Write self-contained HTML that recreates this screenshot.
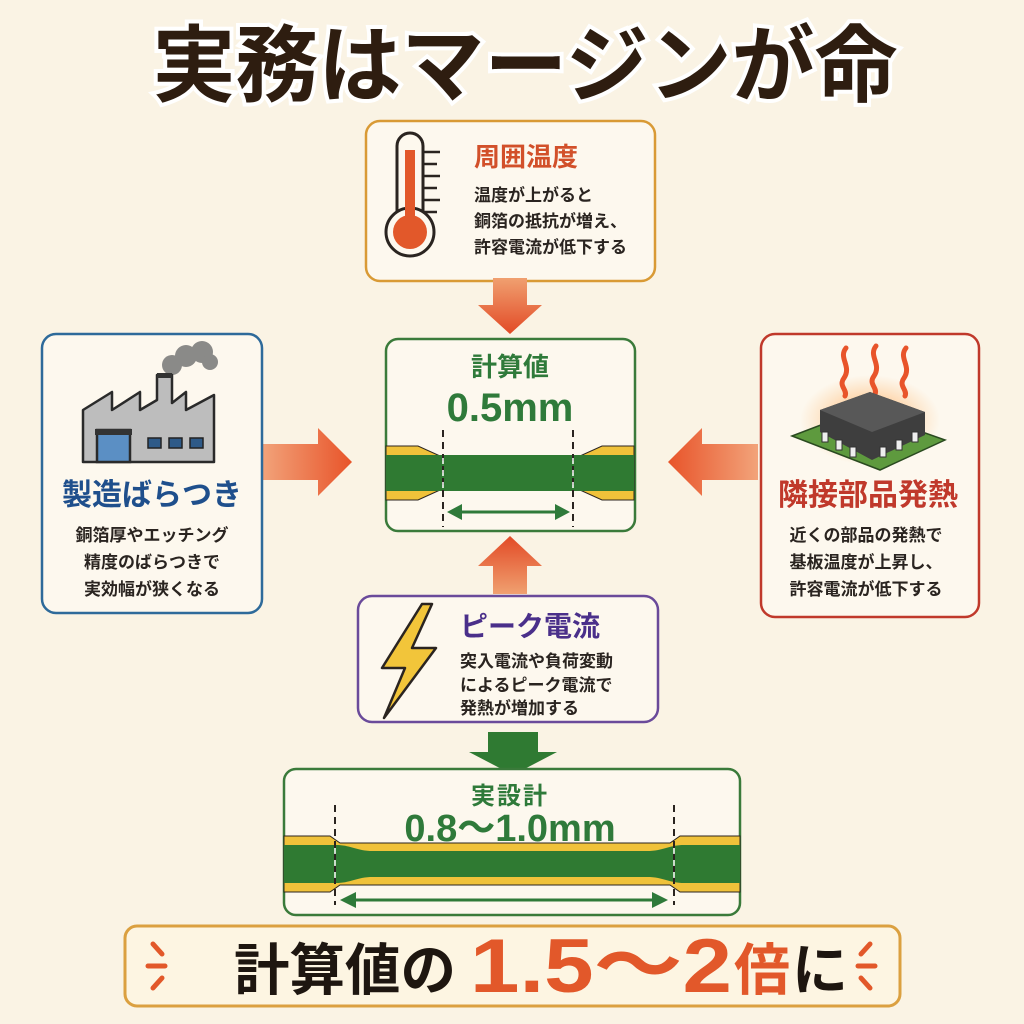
<!DOCTYPE html>
<html><head><meta charset="utf-8"><style>
html,body{margin:0;padding:0;background:#faf3e4;}
svg{display:block;}
text{font-family:"Liberation Sans","Noto Sans CJK JP",sans-serif;font-weight:bold;}
.b{font-size:17px;fill:#2a2420;}
</style></head><body>
<svg width="1024" height="1024" viewBox="0 0 1024 1024" xmlns="http://www.w3.org/2000/svg">
<defs>
<linearGradient id="ga" x1="0" x2="1"><stop offset="0" stop-color="#f2a37a"/><stop offset="1" stop-color="#e8542a"/></linearGradient>
<linearGradient id="gl" x1="1" x2="0"><stop offset="0" stop-color="#f2a37a"/><stop offset="1" stop-color="#e8542a"/></linearGradient>
<linearGradient id="gd" y1="0" y2="1" x1="0" x2="0"><stop offset="0" stop-color="#f0a070"/><stop offset="1" stop-color="#e24a26"/></linearGradient>
<linearGradient id="gu" y1="1" y2="0" x1="0" x2="0"><stop offset="0" stop-color="#f0a070"/><stop offset="1" stop-color="#e24a26"/></linearGradient>
<radialGradient id="glow"><stop offset="0" stop-color="#ff9a3a" stop-opacity="0.8"/><stop offset="1" stop-color="#ffb060" stop-opacity="0"/></radialGradient>
</defs>
<rect width="1024" height="1024" fill="#faf3e4"/>

<!-- Title -->
<text x="525" y="95" text-anchor="middle" font-size="84" fill="#2e1d10" stroke="#fff" stroke-width="8" paint-order="stroke" font-weight="900" textLength="745" lengthAdjust="spacingAndGlyphs">実務はマージンが命</text>

<!-- Top box -->
<rect x="366" y="121" width="289" height="160" rx="14" fill="#fdf8ee" stroke="#d99a35" stroke-width="2.5"/>
<rect x="397" y="133" width="26" height="100" rx="13" fill="#fdf8ee" stroke="#2a2420" stroke-width="3"/>
<circle cx="410" cy="232" r="24" fill="#fdf8ee" stroke="#2a2420" stroke-width="3"/>
<circle cx="410" cy="232" r="17" fill="#e2582a"/>
<rect x="405" y="150" width="10" height="80" fill="#e2582a"/>
<g stroke="#2a2420" stroke-width="2.5"><line x1="423" y1="152" x2="440" y2="152"/><line x1="423" y1="164" x2="437" y2="164"/><line x1="423" y1="176" x2="440" y2="176"/><line x1="423" y1="188" x2="437" y2="188"/><line x1="423" y1="200" x2="440" y2="200"/><line x1="423" y1="212" x2="437" y2="212"/></g>
<text x="474" y="166" font-size="26" fill="#d2502a">周囲温度</text>
<text x="474" y="201" class="b">温度が上がると</text>
<text x="474" y="227" class="b">銅箔の抵抗が増え、</text>
<text x="474" y="253" class="b">許容電流が低下する</text>

<!-- down arrow red -->
<path d="M493 278 H527 V305 H542 L510 334 L478 305 H493 Z" fill="url(#gd)"/>

<!-- Center box -->
<rect x="386" y="339" width="249" height="192" rx="12" fill="#fdf8ee" stroke="#3a7a3a" stroke-width="2.5"/>
<text x="510" y="376" text-anchor="middle" font-size="26" fill="#2f7a3a">計算値</text>
<text x="510" y="421" text-anchor="middle" font-size="40" fill="#2f7a3a">0.5mm</text>
<path d="M386 446 H418 L440 456 H580 L602 446 H634 V500 H602 L580 490 H440 L418 500 H386 Z" fill="#f0c23a" stroke="#2a2420" stroke-width="1"/>
<rect x="386" y="455" width="248" height="36" fill="#2f7a32"/>
<g stroke="#2a2420" stroke-width="2" stroke-dasharray="7 5"><line x1="443" y1="430" x2="443" y2="527"/><line x1="573" y1="430" x2="573" y2="527"/></g>
<g stroke="#fff" stroke-width="1.5" stroke-dasharray="6 6"><line x1="443" y1="458" x2="443" y2="488"/><line x1="573" y1="458" x2="573" y2="488"/></g>
<line x1="456" y1="512" x2="560" y2="512" stroke="#2f7a3a" stroke-width="3"/>
<path d="M447 512 L462 504 V520 Z M570 512 L555 504 V520 Z" fill="#2f7a3a"/>

<!-- left/right arrows -->
<path d="M262 444 H318 V428 L352 462 L318 496 V480 H262 Z" fill="url(#ga)"/>
<path d="M758 444 H702 V428 L668 462 L702 496 V480 H758 Z" fill="url(#gl)"/>

<!-- Left box -->
<rect x="42" y="334" width="220" height="279" rx="14" fill="#fdf8ee" stroke="#2e6a9a" stroke-width="2.5"/>
<g fill="#777" opacity="0.85"><circle cx="172" cy="365" r="10"/><circle cx="186" cy="356" r="11"/><circle cx="202" cy="352" r="11"/><circle cx="210" cy="362" r="8"/></g>
<path d="M83 462 V410 L112 392 V410 L140 392 V410 L157 400 V375 H172 V403 L186 392 V410 L214 395 V462 Z" fill="#bdbdbd" stroke="#2a2a2a" stroke-width="2.5" stroke-linejoin="round"/>
<rect x="157" y="373" width="15" height="5" fill="#333"/>
<rect x="97" y="430" width="33" height="32" fill="#5b8fc4" stroke="#2a2a2a" stroke-width="2.5"/>
<rect x="95" y="429" width="37" height="6" fill="#333"/>
<g fill="#2e5a88" stroke="#222" stroke-width="1.5"><rect x="148" y="438" width="13" height="10"/><rect x="169" y="438" width="13" height="10"/><rect x="190" y="438" width="13" height="10"/></g>
<text x="152" y="505" text-anchor="middle" font-size="30" fill="#1f4f8c">製造ばらつき</text>
<text x="152" y="541" text-anchor="middle" class="b">銅箔厚やエッチング</text>
<text x="152" y="568" text-anchor="middle" class="b">精度のばらつきで</text>
<text x="152" y="595" text-anchor="middle" class="b">実効幅が狭くなる</text>

<!-- Right box -->
<rect x="761" y="334" width="218" height="283" rx="14" fill="#fdf8ee" stroke="#c0392b" stroke-width="2.5"/>
<ellipse cx="870" cy="420" rx="70" ry="45" fill="url(#glow)"/>
<g fill="none" stroke="#e8542a" stroke-width="5" stroke-linecap="round"><path d="M846 348 C838 358 852 366 844 378 C838 386 848 390 845 396"/><path d="M876 346 C868 356 882 364 874 376 C868 384 878 388 875 394"/><path d="M906 348 C898 358 912 366 904 378 C898 386 908 390 905 396"/></g>
<path d="M792 436 L860 410 L945 440 L880 470 Z" fill="#5e9a3e" stroke="#2a4a20" stroke-width="1.5"/>
<path d="M820 410 L870 392 L925 412 L925 435 L872 460 L820 432 Z" fill="#3e3e3e"/>
<path d="M820 410 L870 392 L925 412 L872 432 Z" fill="#585858"/>
<g fill="#eee" stroke="#333" stroke-width="1"><rect x="822" y="432" width="6" height="10"/><rect x="836" y="440" width="6" height="10"/><rect x="850" y="447" width="6" height="10"/><rect x="880" y="447" width="6" height="10"/><rect x="896" y="440" width="6" height="10"/><rect x="912" y="432" width="6" height="10"/></g>
<text x="868" y="505" text-anchor="middle" font-size="30" fill="#c0392b">隣接部品発熱</text>
<text x="866" y="541" text-anchor="middle" class="b">近くの部品の発熱で</text>
<text x="866" y="568" text-anchor="middle" class="b">基板温度が上昇し、</text>
<text x="866" y="595" text-anchor="middle" class="b">許容電流が低下する</text>

<!-- up arrow -->
<path d="M493 594 H527 V566 H542 L510 536 L478 566 H493 Z" fill="url(#gu)"/>

<!-- Purple box -->
<rect x="358" y="596" width="300" height="126" rx="14" fill="#fdf8ee" stroke="#6a4a9a" stroke-width="2.5"/>
<path d="M422 604 L382 668 H405 L384 718 L436 648 H412 L432 604 Z" fill="#f2c53a" stroke="#2a2420" stroke-width="2.5" stroke-linejoin="round"/>
<text x="460" y="636" font-size="28" fill="#4a2f8a">ピーク電流</text>
<text x="460" y="667" class="b">突入電流や負荷変動</text>
<text x="460" y="691" class="b">によるピーク電流で</text>
<text x="460" y="714" class="b">発熱が増加する</text>

<!-- green down arrow -->
<path d="M488 732 H538 V752 H557 L513 775 L469 752 H488 Z" fill="#2f7a32"/>

<!-- Bottom box -->
<rect x="284" y="769" width="456" height="146" rx="12" fill="#fdf8ee" stroke="#3a7a3a" stroke-width="2.5"/>
<text x="510" y="804" text-anchor="middle" font-size="24" fill="#2f7a3a" letter-spacing="2">実設計</text>
<text x="510" y="841" text-anchor="middle" font-size="38" fill="#2f7a3a">0.8〜1.0mm</text>
<path d="M284 836 H330 L340 843 H670 L680 836 H740 V892 H680 L670 885 H340 L330 892 H284 Z" fill="#f0c23a" stroke="#2a2420" stroke-width="1"/>
<path d="M284 845 H336 C350 845 355 850 370 851 H650 C665 850 670 845 684 845 H740 V883 H684 C670 883 665 878 650 877 H370 C355 878 350 883 336 883 H284 Z" fill="#2f7a32"/>
<g stroke="#2a2420" stroke-width="2" stroke-dasharray="7 5"><line x1="335" y1="805" x2="335" y2="905"/><line x1="674" y1="805" x2="674" y2="905"/></g>
<g stroke="#fff" stroke-width="1.5" stroke-dasharray="6 6"><line x1="335" y1="848" x2="335" y2="880"/><line x1="674" y1="848" x2="674" y2="880"/></g>
<line x1="350" y1="900" x2="660" y2="900" stroke="#2f7a3a" stroke-width="3"/>
<path d="M340 900 L356 892 V908 Z M668 900 L652 892 V908 Z" fill="#2f7a3a"/>

<!-- Banner -->
<rect x="125" y="926" width="775" height="80" rx="12" fill="#fdf5e2" stroke="#dba040" stroke-width="3"/>
<g stroke="#e2582a" stroke-width="5" stroke-linecap="round"><line x1="153" y1="944" x2="162" y2="954"/><line x1="148" y1="966" x2="165" y2="966"/><line x1="153" y1="988" x2="162" y2="978"/><line x1="870" y1="944" x2="861" y2="954"/><line x1="875" y1="966" x2="858" y2="966"/><line x1="870" y1="988" x2="861" y2="978"/></g>
<text x="234" y="990" font-size="56" fill="#1e1610" font-weight="900" textLength="222" lengthAdjust="spacingAndGlyphs">計算値の</text>
<text x="470" y="992" font-size="76" fill="#e2582a" font-weight="900" textLength="262" lengthAdjust="spacingAndGlyphs">1.5〜2</text>
<text x="734" y="990" font-size="56" fill="#e2582a" font-weight="900">倍</text>
<text x="792" y="990" font-size="56" fill="#1e1610" font-weight="900">に</text>
</svg>
</body></html>
